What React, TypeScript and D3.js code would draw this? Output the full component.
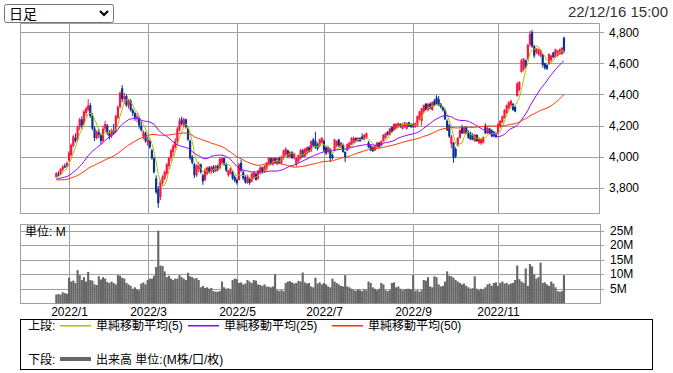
import React, { useEffect, useRef } from 'react';
import * as d3 from 'd3';

// trading days per month shown on the chart
const months = ['2021/12', '2022/1', '2022/2', '2022/3', '2022/4', '2022/5', '2022/6', '2022/7', '2022/8', '2022/9', '2022/10', '2022/11', '2022/12'];
const monthDays = [6, 19, 18, 22, 20, 19, 22, 20, 22, 20, 20, 20, 12];
const tickMonths = ['2022/1', '2022/3', '2022/5', '2022/7', '2022/9', '2022/11'];

const priceTicks = [3800, 4000, 4200, 4400, 4600, 4800];
const volumeTicks = [5, 10, 15, 20, 25];

// closes before the first visible day (only used for the moving averages)
const prevCloses = [
  3880, 3900, 3920, 3890, 3860, 3840, 3830, 3850, 3870, 3880,
  3860, 3830, 3810, 3800, 3820, 3840, 3850, 3830, 3810, 3790,
  3800, 3820, 3840, 3860, 3850, 3830, 3820, 3840, 3860, 3870,
  3850, 3830, 3840, 3860, 3880, 3870, 3850, 3840, 3850, 3870,
  3860, 3850, 3860, 3870, 3850, 3860, 3870, 3860, 3850,
];

const opens = [
  3868, 3885, 3885, 3915, 3940, 3935, 3975, 4010, 4070, 4120,
  4110, 4190, 4240, 4210, 4280, 4300, 4330, 4260, 4180, 4120,
  4160, 4140, 4100, 4180, 4200, 4150, 4130, 4170, 4160, 4250,
  4320, 4440, 4370, 4390, 4330, 4360, 4300, 4280, 4250, 4250,
  4200, 4130, 4150, 4090, 4100, 4040, 3990, 3860, 3790, 3740,
  3830, 3860, 3890, 3940, 3990, 4030, 4060, 4100, 4170, 4240,
  4200, 4240, 4180, 4100, 4000, 3950, 3880, 3920, 3950, 3880,
  3850, 3890, 3930, 3900, 3935, 3905, 3940, 3925, 3960, 3990,
  3950, 3880, 3890, 3900, 3870, 3850, 3850, 3960, 3900, 3870,
  3830, 3860, 3840, 3860, 3890, 3860, 3890, 3930, 3900, 3920,
  3950, 3990, 3950, 3990, 3950, 3990, 3960, 3990, 4010, 4040,
  4000, 4030, 3990, 3950, 3970, 3990, 4040, 4000, 4020, 4060,
  4040, 4110, 4100, 4080, 4070, 4090, 4100, 4060, 4030, 4050,
  4010, 4040, 4070, 4110, 4060, 4080, 4030, 4040, 4060, 4080,
  4090, 4120, 4100, 4120, 4130, 4110, 4120, 4090, 4070, 4060,
  4040, 4060, 4090, 4070, 4100, 4120, 4160, 4140, 4190, 4170,
  4180, 4190, 4210, 4180, 4190, 4180, 4220, 4210, 4210, 4190,
  4200, 4240, 4230, 4290, 4340, 4300, 4340, 4300, 4360, 4380,
  4370, 4340, 4320, 4300, 4230, 4200, 4080, 4090, 4050, 4070,
  4120, 4190, 4150, 4190, 4160, 4150, 4140, 4100, 4140, 4090,
  4085, 4090, 4200, 4150, 4180, 4170, 4160, 4150, 4150, 4190,
  4220, 4250, 4280, 4310, 4330, 4340, 4320, 4390, 4430, 4545,
  4560, 4620, 4630, 4720, 4800, 4710, 4670, 4660, 4650, 4655,
  4600, 4590, 4600, 4620, 4670, 4640, 4650, 4660, 4660, 4765,
];

const highs = [
  3900, 3905, 3925, 3945, 3955, 3968, 4035, 4085, 4140, 4150,
  4200, 4250, 4260, 4300, 4320, 4370, 4345, 4280, 4195, 4170,
  4180, 4150, 4200, 4230, 4210, 4170, 4180, 4210, 4270, 4330,
  4420, 4460, 4410, 4400, 4370, 4370, 4310, 4290, 4280, 4260,
  4230, 4170, 4160, 4130, 4110, 4050, 4000, 3880, 3810, 3850,
  3880, 3910, 3960, 4000, 4050, 4080, 4120, 4190, 4250, 4257,
  4250, 4245, 4190, 4110, 4010, 3960, 3950, 3965, 3955, 3890,
  3925, 3935, 3940, 3940, 3945, 3945, 3950, 3995, 4000, 3995,
  3960, 3915, 3930, 3910, 3880, 3860, 3960, 3980, 3910, 3880,
  3880, 3865, 3895, 3905, 3895, 3915, 3940, 3935, 3945, 3965,
  3998, 3995, 3995, 3995, 3995, 4000, 4005, 4045, 4060, 4045,
  4035, 4035, 4025, 3995, 4015, 4050, 4050, 4055, 4065, 4070,
  4105, 4120, 4160, 4090, 4115, 4125, 4110, 4065, 4065, 4055,
  4020, 4115, 4105, 4115, 4095, 4085, 4035, 4085, 4095, 4125,
  4130, 4125, 4125, 4125, 4150, 4145, 4155, 4100, 4075, 4065,
  4075, 4095, 4095, 4105, 4145, 4155, 4165, 4185, 4195, 4215,
  4215, 4220, 4215, 4215, 4225, 4220, 4225, 4215, 4215, 4220,
  4265, 4295, 4315, 4335, 4345, 4345, 4350, 4355, 4370, 4395,
  4390, 4345, 4325, 4310, 4240, 4210, 4140, 4095, 4060, 4125,
  4175, 4205, 4195, 4195, 4170, 4160, 4150, 4145, 4145, 4125,
  4115, 4130, 4215, 4190, 4185, 4175, 4165, 4155, 4215, 4235,
  4265, 4305, 4335, 4355, 4365, 4345, 4325, 4480, 4485, 4630,
  4635, 4625, 4725, 4810, 4815, 4720, 4700, 4695, 4690, 4660,
  4605, 4595, 4665, 4655, 4675, 4695, 4685, 4695, 4705, 4772,
];

const lows = [
  3862, 3872, 3880, 3905, 3925, 3930, 3965, 4000, 4060, 4090,
  4100, 4170, 4180, 4200, 4260, 4290, 4250, 4170, 4100, 4110,
  4120, 4080, 4090, 4160, 4140, 4110, 4120, 4140, 4150, 4240,
  4310, 4350, 4340, 4320, 4310, 4290, 4260, 4230, 4220, 4180,
  4160, 4110, 4090, 4070, 4050, 3980, 3890, 3760, 3670, 3720,
  3810, 3850, 3880, 3920, 3970, 4000, 4050, 4080, 4160, 4200,
  4190, 4180, 4100, 3980, 3950, 3862, 3870, 3900, 3890, 3818,
  3840, 3880, 3890, 3890, 3895, 3900, 3905, 3920, 3950, 3940,
  3900, 3870, 3885, 3850, 3835, 3820, 3845, 3900, 3850, 3825,
  3825, 3818, 3835, 3855, 3845, 3850, 3885, 3890, 3895, 3910,
  3940, 3945, 3940, 3955, 3945, 3955, 3950, 3980, 4000, 3990,
  3990, 3985, 3980, 3935, 3960, 3980, 3995, 3995, 4010, 4025,
  4030, 4060, 4050, 4040, 4060, 4085, 4030, 4010, 4020, 3965,
  3980, 4035, 4060, 4060, 4055, 4025, 3965, 4035, 4055, 4075,
  4085, 4090, 4095, 4095, 4105, 4105, 4115, 4055, 4035, 4030,
  4035, 4055, 4055, 4065, 4095, 4115, 4135, 4135, 4155, 4165,
  4175, 4185, 4185, 4175, 4185, 4175, 4190, 4185, 4185, 4185,
  4195, 4235, 4200, 4280, 4295, 4290, 4305, 4295, 4325, 4335,
  4325, 4310, 4290, 4235, 4165, 4120, 4055, 3960, 3990, 4065,
  4115, 4145, 4145, 4145, 4115, 4105, 4105, 4095, 4095, 4080,
  4075, 4085, 4145, 4145, 4145, 4125, 4125, 4120, 4145, 4185,
  4215, 4245, 4275, 4305, 4325, 4295, 4285, 4385, 4420, 4540,
  4550, 4570, 4620, 4705, 4700, 4635, 4660, 4650, 4640, 4575,
  4560, 4557, 4590, 4610, 4635, 4635, 4645, 4655, 4655, 4665,
];

const closes = [
  3895, 3880, 3920, 3935, 3930, 3960, 4025, 4075, 4130, 4100,
  4190, 4240, 4200, 4290, 4310, 4330, 4260, 4180, 4120, 4160,
  4140, 4100, 4180, 4210, 4150, 4130, 4170, 4150, 4260, 4320,
  4410, 4370, 4390, 4330, 4360, 4300, 4280, 4250, 4260, 4200,
  4170, 4160, 4100, 4110, 4060, 3990, 3900, 3770, 3700, 3840,
  3870, 3900, 3950, 3990, 4040, 4070, 4100, 4180, 4230, 4210,
  4240, 4190, 4110, 3990, 3960, 3880, 3940, 3950, 3900, 3840,
  3915, 3930, 3900, 3935, 3905, 3940, 3915, 3985, 3990, 3950,
  3910, 3910, 3925, 3860, 3845, 3830, 3950, 3910, 3860, 3835,
  3870, 3830, 3890, 3900, 3850, 3910, 3930, 3900, 3940, 3960,
  3990, 3950, 3990, 3960, 3990, 3960, 4000, 4040, 4050, 4000,
  4030, 3990, 4020, 3990, 4010, 4040, 4000, 4050, 4060, 4030,
  4100, 4070, 4060, 4050, 4110, 4120, 4040, 4020, 4060, 3990,
  3990, 4110, 4100, 4070, 4090, 4030, 3990, 4080, 4090, 4120,
  4120, 4100, 4120, 4100, 4110, 4140, 4150, 4060, 4040, 4035,
  4070, 4090, 4060, 4100, 4140, 4150, 4140, 4180, 4160, 4210,
  4210, 4215, 4190, 4210, 4220, 4215, 4195, 4190, 4190, 4215,
  4260, 4290, 4310, 4330, 4300, 4340, 4310, 4350, 4330, 4340,
  4330, 4320, 4300, 4240, 4170, 4130, 4130, 3990, 4000, 4120,
  4170, 4150, 4190, 4150, 4120, 4110, 4110, 4140, 4100, 4120,
  4110, 4125, 4150, 4185, 4150, 4130, 4130, 4125, 4210, 4230,
  4260, 4300, 4330, 4350, 4360, 4300, 4290, 4470, 4480, 4620,
  4630, 4580, 4720, 4790, 4710, 4650, 4695, 4690, 4685, 4590,
  4570, 4565, 4660, 4650, 4640, 4690, 4680, 4690, 4700, 4680,
];

// volume in millions
const volumes = [
  3.0, 3.2, 3.0, 3.8, 3.5, 3.3, 8.8, 7.5, 7.8, 7.0,
  11.4, 9.7, 8.0, 9.0, 7.5, 10.8, 8.0, 7.8, 6.5, 6.3,
  9.3, 8.2, 9.0, 8.5, 7.3, 7.0, 7.5, 7.0, 6.5, 9.7,
  9.5, 8.8, 8.5, 7.0, 6.5, 6.0, 5.0, 5.5, 4.8, 4.5,
  6.8, 7.2, 6.5, 8.0, 8.5, 8.5, 9.5, 12.5, 25.0, 13.0,
  12.8, 11.0, 9.0, 9.5, 8.5, 8.0, 8.5, 8.5, 9.7, 9.0,
  8.5, 8.0, 10.5, 9.3, 9.0, 8.5, 8.7, 8.0, 5.5, 6.0,
  5.3, 5.5, 5.0, 5.3, 4.2, 4.0, 4.0, 4.2, 7.5, 5.5,
  5.0, 5.2, 4.8, 8.0, 8.5, 8.3, 7.0, 7.2, 6.5, 6.8,
  8.0, 7.5, 7.0, 8.0, 7.8, 6.5, 6.3, 6.0, 6.5, 5.8,
  5.7, 5.5, 5.8, 10.0, 4.5, 4.3, 4.5, 4.2, 7.0, 7.5,
  7.6, 7.2, 6.8, 7.0, 7.7, 7.5, 10.6, 7.2, 6.8, 7.0,
  5.8, 5.5, 8.8, 6.8, 7.2, 6.5, 7.0, 6.5, 5.8, 5.5,
  8.5, 7.5, 7.0, 6.5, 6.0, 5.8, 9.7, 5.8, 5.5, 5.0,
  4.5, 4.3, 4.8, 4.5, 4.2, 4.8, 4.5, 7.5, 7.0, 5.5,
  5.0, 4.5, 5.0, 7.0, 6.5, 4.5, 4.2, 4.5, 7.0, 7.2,
  5.5, 5.8, 5.0, 4.5, 4.8, 5.0, 5.0, 4.8, 9.7, 4.3,
  4.5, 4.0, 4.5, 8.0, 7.8, 9.0, 5.8, 5.5, 9.3, 9.0,
  6.5, 5.8, 6.0, 7.5, 11.0, 9.5, 9.3, 8.8, 8.0, 7.5,
  7.0, 6.5, 6.8, 6.0, 5.5, 5.0, 5.2, 9.3, 5.0, 4.5,
  5.0, 4.8, 5.5, 6.5, 6.8, 6.0, 7.0, 7.2, 6.0, 7.0,
  7.5, 6.8, 7.0, 6.5, 6.8, 7.0, 8.0, 13.0, 8.3, 7.5,
  7.0, 12.0, 6.0, 13.5, 12.7, 10.0, 8.5, 9.0, 14.0, 7.0,
  7.2, 6.5, 6.0, 7.5, 6.8, 5.5, 4.2, 4.0, 4.2, 9.7,
];

const maPeriods = [5, 25, 50];
const maColors = ['#99cc00', '#9900ff', '#ff3300'];
const maLabels = ['単純移動平均(5)', '単純移動平均(25)', '単純移動平均(50)'];

const FONT = "'Liberation Sans', Arial, 'Noto Sans CJK JP', sans-serif";
const UP = '#ff1446';
const DOWN = '#0a3296';
const GRID = '#a0a0a0';

function movingAverage(n: number) {
  const all = prevCloses.concat(closes);
  const off = prevCloses.length;
  return closes.map((_, i) => {
    const j = i + off;
    const from = Math.max(0, j - n + 1);
    return d3.mean(all.slice(from, j + 1)) as number;
  });
}

function App() {
  const chartRef = useRef<SVGSVGElement>(null);

  useEffect(() => {
    const svg = d3.select(chartRef.current);
    svg.selectAll('*').remove();

    const x = d3.scaleLinear().domain([-17.1, 255.5]).range([20, 599]);
    const y = d3.scaleLinear().domain([3637, 4860]).range([213, 23]);
    const yv = d3.scaleLinear().domain([0, 27.3]).range([303.3, 224]);
    const step = x(1) - x(0);
    const crisp = (v: number) => Math.round(v) + 0.5;

    // month start index
    const starts: Record<string, number> = {};
    let acc = 0;
    months.forEach((m, k) => { starts[m] = acc; acc += monthDays[k]; });

    svg.append('rect').attr('width', 673).attr('height', 373).attr('fill', '#fff');

    // selector box
    svg.append('rect').attr('x', 4.5).attr('y', 4.5).attr('width', 109).attr('height', 18)
      .attr('rx', 2).attr('fill', '#fff').attr('stroke', '#767676');
    svg.append('text').attr('x', 9).attr('y', 19).attr('font-size', 14)
      .attr('font-family', "'Noto Sans CJK JP', sans-serif").text('日足');
    svg.append('path').attr('d', 'M100,11 L104,15 L108,11').attr('fill', 'none')
      .attr('stroke', '#000').attr('stroke-width', 2);

    svg.append('text').attr('x', 668).attr('y', 17).attr('text-anchor', 'end')
      .attr('font-size', 15).attr('fill', '#333').attr('font-family', FONT).text('22/12/16 15:00');

    // grid - price and volume
    const g = svg.append('g');
    g.selectAll('line.py').data(priceTicks).join('line')
      .attr('x1', 20).attr('x2', 604)
      .attr('y1', d => crisp(y(d))).attr('y2', d => crisp(y(d)))
      .attr('stroke', GRID);
    g.selectAll('line.vy').data(volumeTicks).join('line')
      .attr('x1', 20).attr('x2', 604)
      .attr('y1', d => crisp(yv(d))).attr('y2', d => crisp(yv(d)))
      .attr('stroke', GRID);
    tickMonths.forEach(m => {
      const px = crisp(x(starts[m]));
      g.append('line').attr('x1', px).attr('x2', px).attr('y1', 23).attr('y2', 213).attr('stroke', GRID);
      g.append('line').attr('x1', px).attr('x2', px).attr('y1', 224).attr('y2', 303).attr('stroke', GRID);
      g.append('text').attr('x', px).attr('y', 316).attr('text-anchor', 'middle')
        .attr('font-size', 12).attr('font-family', FONT).text(m);
    });
    g.append('rect').attr('x', 20.5).attr('y', 23.5).attr('width', 579).attr('height', 190)
      .attr('fill', 'none').attr('stroke', GRID);
    g.append('rect').attr('x', 20.5).attr('y', 224.5).attr('width', 580).attr('height', 79)
      .attr('fill', 'none').attr('stroke', GRID);

    g.selectAll('text.pl').data(priceTicks).join('text')
      .attr('x', 609).attr('y', d => y(d)).attr('dy', '0.35em')
      .attr('font-size', 12).attr('font-family', FONT)
      .text(d => d3.format(',')(d));
    g.selectAll('text.vl').data(volumeTicks).join('text')
      .attr('x', 610).attr('y', d => yv(d)).attr('dy', '0.35em')
      .attr('font-size', 12).attr('font-family', FONT)
      .text(d => d + 'M');
    svg.append('text').attr('x', 25).attr('y', 236).attr('font-size', 12)
      .attr('font-family', FONT).text('単位: M');

    // volume bars
    svg.append('g').attr('fill', '#666').selectAll('rect').data(volumes).join('rect')
      .attr('x', (d, i) => x(i) - step / 2)
      .attr('width', step)
      .attr('y', d => yv(d))
      .attr('height', d => yv(0) - yv(d));

    // candles
    const candles = svg.append('g');
    closes.forEach((c, i) => {
      const o = opens[i];
      const col = c >= o ? UP : DOWN;
      const cx = x(i);
      candles.append('line').attr('x1', cx).attr('x2', cx)
        .attr('y1', y(highs[i])).attr('y2', y(lows[i]))
        .attr('stroke', col).attr('stroke-width', 1);
      const top = y(Math.max(o, c));
      const h = Math.max(1, Math.abs(y(o) - y(c)));
      candles.append('rect').attr('x', cx - 1.1).attr('width', 2.2)
        .attr('y', top).attr('height', h).attr('fill', col);
    });

    // moving averages
    const line = d3.line<number>().x((d, i) => x(i)).y(d => y(d));
    maPeriods.forEach((n, k) => {
      svg.append('path').datum(movingAverage(n)).attr('d', line)
        .attr('fill', 'none').attr('stroke', maColors[k]).attr('stroke-width', 1);
    });

    // legend
    const lg = svg.append('g').attr('font-size', 12).attr('font-family', FONT);
    lg.append('rect').attr('x', 20.5).attr('y', 319.5).attr('width', 632).attr('height', 50)
      .attr('fill', 'none').attr('stroke', '#000');
    lg.append('text').attr('x', 28).attr('y', 330).text('上段:');
    const lx = [60, 188, 332];
    maLabels.forEach((lab, k) => {
      lg.append('rect').attr('x', lx[k]).attr('y', 325).attr('width', 31).attr('height', 1.5)
        .attr('fill', maColors[k]);
      lg.append('text').attr('x', lx[k] + 36).attr('y', 330).text(lab);
    });
    lg.append('text').attr('x', 28).attr('y', 364).text('下段:');
    lg.append('rect').attr('x', 60).attr('y', 357).attr('width', 31).attr('height', 4)
      .attr('fill', '#666');
    lg.append('text').attr('x', 96).attr('y', 364).text('出来高 単位:(M株/口/枚)');
  }, []);

  return (
    <div style={{ position: 'absolute', left: 0, top: 0 }}>
      <svg ref={chartRef} width={673} height={373} />
    </div>
  );
}

export default App;
